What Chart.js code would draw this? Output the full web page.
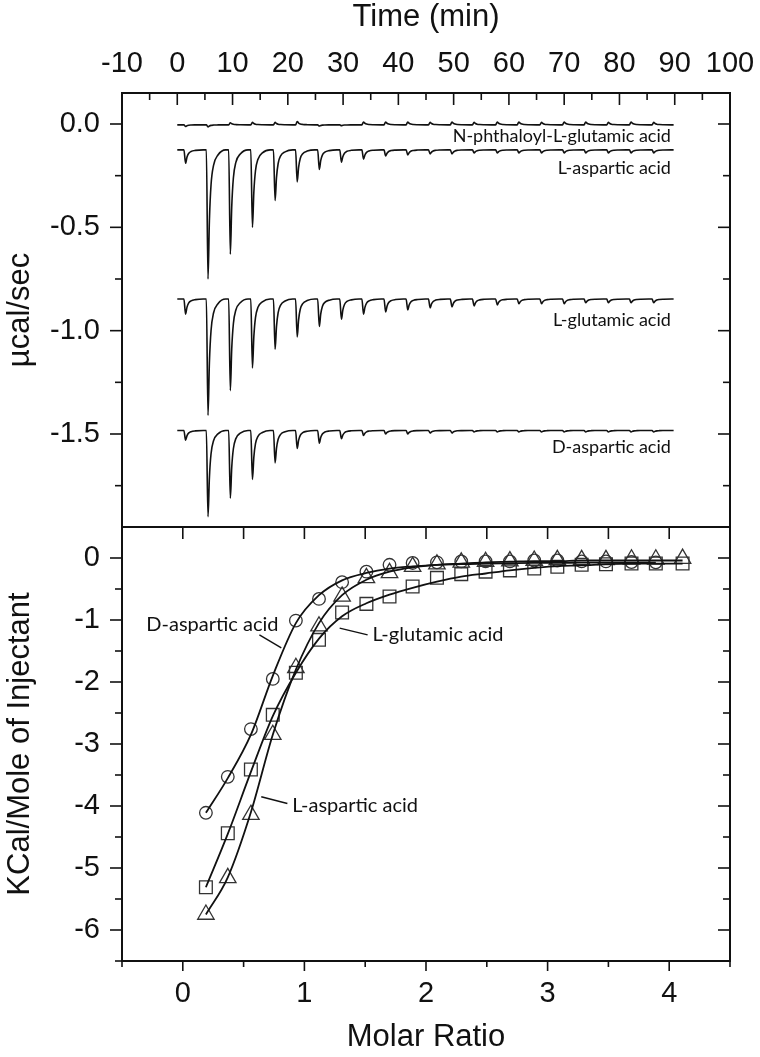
<!DOCTYPE html>
<html>
<head>
<meta charset="utf-8">
<script src="https://cdn.jsdelivr.net/npm/chart.js@4.4.1/dist/chart.umd.min.js"></script>
<style>
  html, body { margin: 0; padding: 0; background: #fff; }
  #wrap { width: 760px; height: 1057px; }
</style>
</head>
<body>
<div id="wrap"><canvas id="itc" width="760" height="1057"></canvas></div>
<script>
// ---- thermograms (top panel) ----
// time (min) of each injection, first one is the small pre-injection
const injectTimes = [1.5, 5.56, 9.6, 13.6, 17.7, 21.7, 25.7, 29.7, 33.7, 37.7, 41.7,
  45.75, 49.7, 53.7, 57.9, 61.8, 65.9, 70.0, 73.9, 78.0, 82.1, 86.2];
const traceEnd = 89.8;

// baseline and peak extreme (µcal/sec) of each injection
const phthBase = -0.004;
const phthPeaks = [-0.012, -0.014, 0.006, 0.008, 0.008, 0.012, -0.01, -0.008, 0.01, 0.01, 0.01,
  0.008, 0.01, 0.008, 0.01, 0.01, 0.008, 0.01, 0.01, 0.008, 0.01, 0.008];
const lAspBase = -0.125;
const lAspPeaks = [-0.19, -0.75, -0.63, -0.50, -0.37, -0.28, -0.22, -0.185, -0.17, -0.155, -0.15,
  -0.145, -0.145, -0.14, -0.14, -0.14, -0.14, -0.14, -0.14, -0.14, -0.14, -0.14];
const lGluBase = -0.847;
const lGluPeaks = [-0.92, -1.41, -1.29, -1.18, -1.09, -1.03, -0.98, -0.945, -0.92, -0.91, -0.90,
  -0.89, -0.885, -0.88, -0.875, -0.87, -0.87, -0.87, -0.865, -0.865, -0.865, -0.865];
const dAspBase = -1.483;
const dAspPeaks = [-1.53, -1.90, -1.81, -1.72, -1.64, -1.57, -1.545, -1.523, -1.507, -1.50, -1.50,
  -1.495, -1.495, -1.49, -1.49, -1.49, -1.49, -1.49, -1.49, -1.49, -1.49, -1.49];

// shape of one injection peak: [minutes from injection, fraction of peak height]
const peakShape = [[-0.3, 0], [0, 1], [0.25, 0.55], [0.55, 0.27], [1.0, 0.12], [1.8, 0.04], [3.2, 0]];

// ---- integrated heats (bottom panel) ----
const molarRatio = [0.19, 0.37, 0.56, 0.74, 0.93, 1.12, 1.31, 1.51, 1.70, 1.89, 2.09,
  2.29, 2.49, 2.69, 2.89, 3.08, 3.28, 3.48, 3.69, 3.89, 4.11];
const dAspHeat = [-4.11, -3.53, -2.76, -1.95, -1.01, -0.66, -0.39, -0.22, -0.11, -0.08,
  -0.07, -0.055, -0.055, -0.055, -0.04, -0.04, -0.055, -0.055, -0.065, -0.07];
const lGluHeat = [-5.31, -4.44, -3.41, -2.53, -1.85, -1.32, -0.88, -0.74, -0.62, -0.46, -0.32,
  -0.26, -0.22, -0.20, -0.17, -0.14, -0.11, -0.10, -0.09, -0.09, -0.09];
const lAspHeat = [-5.75, -5.16, -4.14, -2.85, -1.77, -1.10, -0.62, -0.32, -0.24, -0.14, -0.10,
  -0.07, -0.06, -0.05, -0.04, -0.03, -0.03, -0.03, -0.02, -0.02, -0.01];
// fitted curves
const dAspFit = [-4.11, -3.55, -2.85, -1.9, -1.05, -0.6, -0.36, -0.24, -0.17, -0.135, -0.11,
  -0.1, -0.09, -0.085, -0.08, -0.08, -0.075, -0.075, -0.075, -0.075];
const lGluFit = [-5.31, -4.45, -3.45, -2.55, -1.85, -1.3, -0.94, -0.73, -0.59, -0.48, -0.38,
  -0.30, -0.25, -0.20, -0.16, -0.13, -0.12, -0.10, -0.09, -0.09, -0.09];
const lAspFit = [-5.75, -5.15, -4.1, -2.85, -1.8, -1.05, -0.6, -0.35, -0.22, -0.15, -0.11,
  -0.09, -0.07, -0.06, -0.05, -0.05, -0.04, -0.04, -0.04, -0.04, -0.04];

const INK = '#111';
const AXIS_FONT = "'Liberation Sans', Arial, sans-serif";
const NOTE_FONT = "Lato, 'Open Sans', sans-serif";

const isStep = (v, step) => Math.abs(v / step - Math.round(v / step)) < 1e-6;
const xy = (xs, ys) => ys.map((y, i) => ({x: xs[i], y}));

function thermogram(base, peaks) {
  const pts = [{x: 0, y: base}];
  injectTimes.forEach((t, i) => {
    peakShape.forEach(([dt, f]) => pts.push({x: t + dt, y: base + f * (peaks[i] - base)}));
  });
  pts.push({x: traceEnd, y: base});
  return pts;
}

function traceSet(base, peaks) {
  return {
    data: thermogram(base, peaks),
    xAxisID: 'xt', yAxisID: 'yt',
    borderColor: INK, borderWidth: 1.6,
    pointRadius: 0, cubicInterpolationMode: 'monotone'
  };
}

function fitSet(ys) {
  return {
    data: xy(molarRatio, ys),
    xAxisID: 'xb', yAxisID: 'yb',
    borderColor: INK, borderWidth: 1.8,
    pointRadius: 0, cubicInterpolationMode: 'monotone'
  };
}

function markerSet(ys, style, radius) {
  return {
    data: xy(molarRatio, ys),
    xAxisID: 'xb', yAxisID: 'yb',
    showLine: false,
    pointStyle: style, pointRadius: radius,
    pointBorderWidth: 1.3, pointBorderColor: '#333',
    pointBackgroundColor: 'rgba(0,0,0,0)'
  };
}

// text labels on the panels
const topNotes = [
  {text: 'N-phthaloyl-L-glutamic acid', x: 89.3, y: -0.061},
  {text: 'L-aspartic acid', x: 89.3, y: -0.216},
  {text: 'L-glutamic acid', x: 89.3, y: -0.947},
  {text: 'D-aspartic acid', x: 89.3, y: -1.566}
];
const bottomNotes = [
  {text: 'D-aspartic acid', x: -0.30, y: -1.08, from: [0.63, -1.24], to: [0.81, -1.45]},
  {text: 'L-glutamic acid', x: 1.56, y: -1.24, from: [1.29, -1.13], to: [1.52, -1.24]},
  {text: 'L-aspartic acid', x: 0.90, y: -4.0, from: [0.645, -3.85], to: [0.86, -3.96]}
];

const notes = {
  id: 'notes',
  afterDatasetsDraw(chart) {
    const {ctx} = chart;
    const {xt, yt, xb, yb} = chart.scales;
    ctx.save();
    ctx.fillStyle = INK;
    ctx.strokeStyle = INK;
    ctx.textBaseline = 'middle';
    ctx.font = '18px ' + NOTE_FONT;
    ctx.textAlign = 'right';
    topNotes.forEach(n => ctx.fillText(n.text, xt.getPixelForValue(n.x), yt.getPixelForValue(n.y)));
    ctx.font = '20px ' + NOTE_FONT;
    ctx.textAlign = 'left';
    ctx.lineWidth = 1.4;
    bottomNotes.forEach(n => {
      ctx.fillText(n.text, xb.getPixelForValue(n.x), yb.getPixelForValue(n.y));
      ctx.beginPath();
      ctx.moveTo(xb.getPixelForValue(n.from[0]), yb.getPixelForValue(n.from[1]));
      ctx.lineTo(xb.getPixelForValue(n.to[0]), yb.getPixelForValue(n.to[1]));
      ctx.stroke();
    });
    ctx.restore();
  }
};

// frame plus tick marks (inward on top/right, outward on left/bottom)
const frameTicks = {
  id: 'frameTicks',
  afterDraw(chart) {
    const {ctx, chartArea: a} = chart;
    const {xt, yt, xb, yb} = chart.scales;
    const seg = (x1, y1, x2, y2) => { ctx.beginPath(); ctx.moveTo(x1, y1); ctx.lineTo(x2, y2); ctx.stroke(); };
    ctx.save();
    ctx.strokeStyle = INK;
    ctx.lineWidth = 1.6;
    xt.ticks.forEach(t => {
      if (t.value <= xt.min || t.value >= xt.max) return;
      const x = xt.getPixelForValue(t.value);
      seg(x, a.top, x, a.top + (isStep(t.value, 10) ? 12 : 7));
    });
    yt.ticks.forEach(t => {
      const y = yt.getPixelForValue(t.value);
      const len = isStep(t.value, 0.5) ? 12 : 7;
      seg(a.left - len, y, a.left, y);
      seg(a.right - len, y, a.right, y);
    });
    xb.ticks.forEach(t => {
      const x = xb.getPixelForValue(t.value);
      if (t.value > xb.min && t.value < xb.max) seg(x, yb.top, x, yb.top + 12);
      seg(x, a.bottom, x, a.bottom + (isStep(t.value, 1) ? 10 : 6));
    });
    yb.ticks.forEach(t => {
      const y = yb.getPixelForValue(t.value);
      if (t.value >= yb.max) return;
      const len = isStep(t.value, 1) ? 12 : 7;
      seg(a.left - len, y, a.left, y);
      if (t.value > yb.min) seg(a.right - len, y, a.right, y);
    });
    ctx.lineWidth = 2;
    ctx.strokeRect(a.left, a.top, a.right - a.left, a.bottom - a.top);
    seg(a.left, yt.bottom, a.right, yt.bottom);
    ctx.restore();
  }
};

const tickFont = {family: AXIS_FONT, size: 29};
const titleFont = {family: AXIS_FONT, size: 31, lineHeight: 1};
const noGrid = {display: false, drawTicks: false};
// keep the plot frame fixed, no extra room for edge labels
const fixHeight = h => s => { s.height = h; s.paddingLeft = 0; s.paddingRight = 0; };
const fixWidth = w => s => { s.width = w; s.paddingTop = 0; s.paddingBottom = 0; };

new Chart(document.getElementById('itc'), {
  type: 'line',
  data: {
    datasets: [
      traceSet(phthBase, phthPeaks),
      traceSet(lAspBase, lAspPeaks),
      traceSet(lGluBase, lGluPeaks),
      traceSet(dAspBase, dAspPeaks),
      fitSet(dAspFit),
      fitSet(lGluFit),
      fitSet(lAspFit),
      markerSet(dAspHeat, 'circle', 6.3),
      markerSet(lGluHeat, 'rect', 9),
      markerSet(lAspHeat, 'triangle', 9.5)
    ]
  },
  options: {
    responsive: false,
    animation: false,
    devicePixelRatio: 1,
    layout: {padding: {left: 0, right: 30, top: 0, bottom: 0}},
    plugins: {legend: {display: false}, tooltip: {enabled: false}},
    scales: {
      xt: {
        type: 'linear', position: 'top', min: -10, max: 100,
        afterFit: fixHeight(93),
        grid: noGrid, border: {display: false},
        ticks: {
          stepSize: 5, autoSkip: false, maxRotation: 0, padding: 12, color: INK, font: tickFont,
          callback: v => (isStep(v, 10) ? String(Math.round(v)) : '')
        },
        title: {display: true, text: 'Time (min)', color: INK, font: titleFont, padding: {top: 2, bottom: 0}}
      },
      xb: {
        type: 'linear', position: 'bottom', min: -0.5, max: 4.5,
        afterFit: fixHeight(96),
        grid: noGrid, border: {display: false},
        ticks: {
          stepSize: 0.5, autoSkip: false, maxRotation: 0, padding: 16, color: INK, font: tickFont,
          callback: v => (isStep(v, 1) ? String(Math.round(v)) : '')
        },
        title: {display: true, text: 'Molar Ratio', color: INK, font: titleFont, padding: {top: 0, bottom: 4}}
      },
      yt: {
        type: 'linear', position: 'left', stack: 'panels', stackWeight: 1, weight: 2,
        min: -1.95, max: 0.15,
        afterFit: fixWidth(122),
        grid: noGrid, border: {display: false},
        ticks: {
          stepSize: 0.25, includeBounds: false, autoSkip: false, padding: 22, color: INK, font: tickFont,
          callback: v => (isStep(v, 0.5) ? (Math.round(v * 10) / 10).toFixed(1) : '')
        },
        title: {display: true, text: 'µcal/sec', color: INK, font: titleFont, padding: {top: 5, bottom: 0}}
      },
      yb: {
        type: 'linear', position: 'left', stack: 'panels', stackWeight: 1, weight: 1,
        min: -6.5, max: 0.5,
        afterFit: fixWidth(122),
        grid: noGrid, border: {display: false},
        ticks: {
          stepSize: 0.5, autoSkip: false, padding: 22, color: INK, font: tickFont,
          callback: v => (isStep(v, 1) && v < 0.5 ? String(Math.round(v)) : '')
        },
        title: {display: true, text: 'KCal/Mole of Injectant', color: INK, font: titleFont, padding: {top: 5, bottom: 0}}
      }
    }
  },
  plugins: [notes, frameTicks]
});
</script>
</body>
</html>
